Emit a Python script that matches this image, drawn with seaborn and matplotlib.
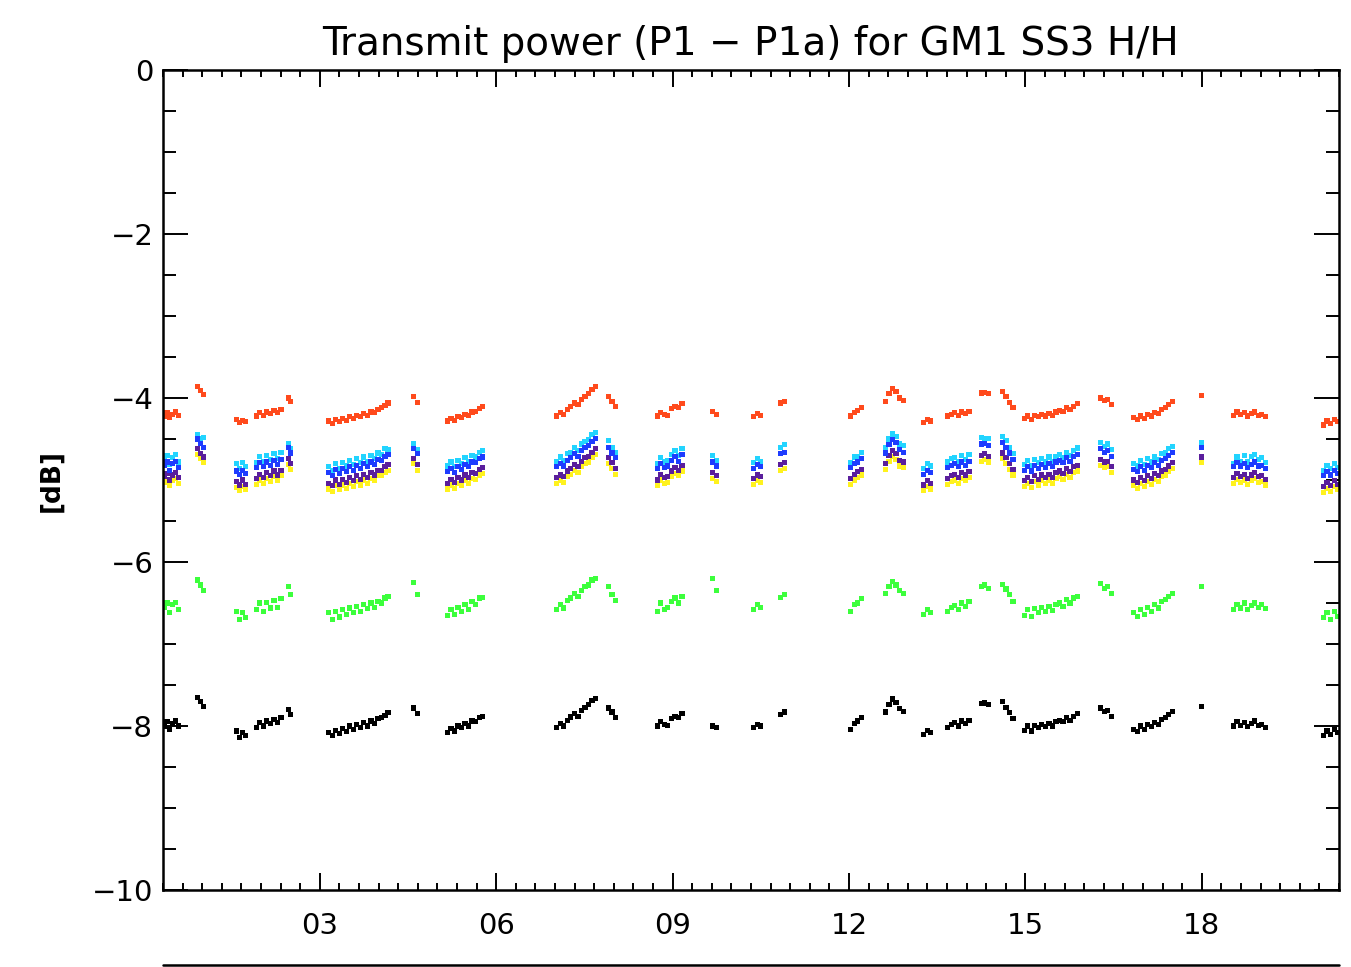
import pandas as pd
import matplotlib
matplotlib.use("Agg")
import matplotlib.pyplot as plt
from matplotlib.lines import Line2D
from matplotlib.ticker import MultipleLocator, FixedLocator
import seaborn as sns

sns.set_style("ticks")
plt.rcParams["font.family"] = ["DejaVu Sans"]
plt.rcParams["text.color"] = "black"

# time of each sample (days of the month); passes are grouped one per line
t_days = [
    0.35, 0.40, 0.45, 0.50, 0.55, 0.60,
    0.92, 0.97, 1.02,
    1.58, 1.63, 1.68, 1.73,
    1.92, 1.98, 2.04, 2.10, 2.16, 2.22, 2.28, 2.34,
    2.47, 2.50,
    3.15, 3.21, 3.27, 3.33, 3.39, 3.45, 3.51, 3.57, 3.63, 3.69, 3.75, 3.81, 3.87, 3.93, 3.99, 4.05, 4.11, 4.16,
    4.60, 4.66,
    5.17, 5.23, 5.29, 5.35, 5.41, 5.47, 5.53, 5.59, 5.65, 5.71, 5.77,
    7.03, 7.09, 7.15, 7.21, 7.27, 7.33, 7.39, 7.45, 7.51, 7.57, 7.63, 7.69,
    7.91, 7.97, 8.03,
    8.74, 8.80, 8.86, 8.92, 8.98, 9.04, 9.10, 9.16,
    9.68, 9.74,
    10.38, 10.44, 10.50,
    10.84, 10.90,
    12.03, 12.09, 12.15, 12.21,
    12.62, 12.68, 12.74, 12.80, 12.86, 12.93,
    13.27, 13.33, 13.39,
    13.68, 13.74, 13.80, 13.86, 13.92, 13.98, 14.04,
    14.25, 14.31, 14.37,
    14.61, 14.67, 14.73, 14.79,
    14.98, 15.04, 15.10, 15.16, 15.22, 15.28, 15.34, 15.40, 15.46, 15.52, 15.58, 15.64, 15.70, 15.76, 15.82, 15.88,
    16.28, 16.34, 16.40, 16.46,
    16.84, 16.90, 16.96, 17.02, 17.08, 17.14, 17.20, 17.26, 17.32, 17.38, 17.44, 17.50,
    17.99,
    18.54, 18.60, 18.66, 18.72, 18.78, 18.84, 18.90, 18.96, 19.02, 19.08,
    20.07, 20.13, 20.19, 20.25, 20.31,
]

p_red = [
    -4.22, -4.18, -4.24, -4.20, -4.17, -4.21,
    -3.86, -3.91, -3.96,
    -4.26, -4.30, -4.27, -4.29,
    -4.22, -4.18, -4.21, -4.17, -4.19, -4.15, -4.18, -4.14,
    -4.00, -4.04,
    -4.28, -4.31, -4.26, -4.29, -4.25, -4.27, -4.23, -4.25, -4.21, -4.23, -4.19, -4.21, -4.17, -4.18, -4.14, -4.12, -4.09, -4.06,
    -3.98, -4.05,
    -4.28, -4.25, -4.27, -4.23, -4.24, -4.20, -4.21, -4.17, -4.16, -4.13, -4.10,
    -4.22, -4.18, -4.20, -4.14, -4.10, -4.06, -4.08, -4.02, -3.98, -3.95, -3.90, -3.86,
    -3.98, -4.04, -4.10,
    -4.22, -4.18, -4.20, -4.21, -4.13, -4.10, -4.12, -4.07,
    -4.16, -4.20,
    -4.23, -4.19, -4.21,
    -4.06, -4.04,
    -4.22, -4.18, -4.15, -4.12,
    -4.04, -3.95, -3.88, -3.92, -4.00, -4.03,
    -4.30, -4.26, -4.28,
    -4.22, -4.20, -4.18, -4.21, -4.17, -4.19, -4.16,
    -3.94, -3.93, -3.95,
    -3.92, -3.98, -4.05, -4.12,
    -4.25, -4.22, -4.26, -4.21, -4.23, -4.20, -4.22, -4.19, -4.21, -4.17, -4.15, -4.16, -4.12, -4.14, -4.10, -4.07,
    -4.00, -4.03, -4.02, -4.08,
    -4.24, -4.26, -4.22, -4.25, -4.20, -4.22, -4.18, -4.19, -4.14, -4.12, -4.08, -4.04,
    -3.97,
    -4.21, -4.17, -4.20, -4.18, -4.22, -4.19, -4.17, -4.21, -4.20, -4.23,
    -4.33, -4.28, -4.31, -4.26, -4.29,
]

p_cyan = [
    -4.74, -4.70, -4.81, -4.73, -4.69, -4.78,
    -4.45, -4.50, -4.48,
    -4.80, -4.86, -4.79, -4.84,
    -4.79, -4.71, -4.77, -4.70, -4.75, -4.68, -4.74, -4.66,
    -4.55, -4.62,
    -4.84, -4.88, -4.80, -4.86, -4.79, -4.83, -4.76, -4.81, -4.74, -4.79, -4.72, -4.77, -4.70, -4.74, -4.67, -4.69, -4.62, -4.63,
    -4.56, -4.63,
    -4.83, -4.78, -4.84, -4.76, -4.80, -4.73, -4.77, -4.70, -4.72, -4.66, -4.64,
    -4.78, -4.72, -4.76, -4.68, -4.66, -4.60, -4.64, -4.56, -4.53, -4.51, -4.45, -4.42,
    -4.52, -4.60, -4.66,
    -4.80, -4.73, -4.78, -4.76, -4.69, -4.64, -4.70, -4.62,
    -4.70, -4.76,
    -4.79, -4.74, -4.77,
    -4.60, -4.57,
    -4.79, -4.72, -4.71, -4.66,
    -4.60, -4.50, -4.44, -4.47, -4.56, -4.58,
    -4.86, -4.80, -4.83,
    -4.78, -4.74, -4.73, -4.77, -4.70, -4.75, -4.69,
    -4.48, -4.50, -4.49,
    -4.47, -4.52, -4.60, -4.68,
    -4.81, -4.76, -4.82, -4.75, -4.79, -4.74, -4.78, -4.72, -4.77, -4.71, -4.69, -4.73, -4.66, -4.70, -4.64, -4.61,
    -4.54, -4.59, -4.56, -4.63,
    -4.80, -4.83, -4.76, -4.81, -4.74, -4.78, -4.72, -4.75, -4.68, -4.67, -4.62, -4.59,
    -4.54,
    -4.80, -4.72, -4.77, -4.70, -4.78, -4.71, -4.69, -4.75, -4.73, -4.79,
    -4.88, -4.82, -4.86, -4.80, -4.85,
]

p_blue = [
    -4.82, -4.78, -4.88, -4.80, -4.77, -4.85,
    -4.50, -4.55, -4.60,
    -4.89, -4.93, -4.88, -4.92,
    -4.85, -4.79, -4.84, -4.78, -4.82, -4.76, -4.81, -4.75,
    -4.60, -4.67,
    -4.91, -4.95, -4.87, -4.92, -4.86, -4.90, -4.84, -4.88, -4.82, -4.86, -4.80, -4.84, -4.78, -4.81, -4.75, -4.76, -4.71, -4.69,
    -4.62, -4.68,
    -4.90, -4.86, -4.91, -4.84, -4.87, -4.81, -4.84, -4.78, -4.79, -4.74, -4.72,
    -4.84, -4.80, -4.83, -4.76, -4.73, -4.68, -4.71, -4.64, -4.60, -4.58, -4.53, -4.49,
    -4.60, -4.67, -4.73,
    -4.86, -4.80, -4.85, -4.83, -4.76, -4.71, -4.77, -4.69,
    -4.78, -4.83,
    -4.86, -4.81, -4.84,
    -4.68, -4.66,
    -4.85, -4.80, -4.78, -4.74,
    -4.67, -4.57, -4.51, -4.54, -4.63, -4.66,
    -4.93, -4.88, -4.91,
    -4.85, -4.82, -4.80, -4.84, -4.78, -4.82, -4.77,
    -4.56, -4.55, -4.58,
    -4.54, -4.60, -4.67, -4.75,
    -4.88, -4.84, -4.89, -4.82, -4.86, -4.81, -4.85, -4.80, -4.84, -4.78, -4.76, -4.79, -4.73, -4.77, -4.71, -4.69,
    -4.62, -4.66, -4.64, -4.71,
    -4.87, -4.90, -4.84, -4.88, -4.82, -4.85, -4.79, -4.82, -4.76, -4.74, -4.70, -4.66,
    -4.60,
    -4.84, -4.79, -4.83, -4.80, -4.85, -4.81, -4.78, -4.83, -4.82, -4.86,
    -4.95, -4.90, -4.94, -4.88, -4.92,
]

p_purple = [
    -4.96, -4.92, -5.00, -4.94, -4.91, -4.97,
    -4.62, -4.68, -4.72,
    -5.02, -5.06, -5.00, -5.05,
    -4.98, -4.93, -4.97, -4.91, -4.95, -4.89, -4.94, -4.88,
    -4.74, -4.80,
    -5.04, -5.07, -5.00, -5.05, -4.99, -5.03, -4.97, -5.01, -4.95, -4.99, -4.93, -4.97, -4.91, -4.94, -4.88, -4.88, -4.84, -4.81,
    -4.74, -4.81,
    -5.04, -4.99, -5.03, -4.97, -5.00, -4.94, -4.97, -4.91, -4.92, -4.87, -4.85,
    -4.97, -4.94, -4.96, -4.89, -4.86, -4.81, -4.84, -4.77, -4.73, -4.71, -4.66, -4.62,
    -4.73, -4.79, -4.86,
    -5.00, -4.93, -4.97, -4.96, -4.89, -4.85, -4.88, -4.82,
    -4.91, -4.95,
    -4.98, -4.94, -4.96,
    -4.81, -4.79,
    -4.98, -4.93, -4.90, -4.87,
    -4.80, -4.70, -4.64, -4.68, -4.76, -4.78,
    -5.06, -5.01, -5.04,
    -4.98, -4.95, -4.93, -4.97, -4.91, -4.94, -4.90,
    -4.70, -4.68, -4.71,
    -4.67, -4.73, -4.80, -4.87,
    -5.01, -4.97, -5.02, -4.95, -4.99, -4.94, -4.97, -4.93, -4.97, -4.91, -4.89, -4.92, -4.86, -4.90, -4.84, -4.82,
    -4.75, -4.78, -4.77, -4.84,
    -5.00, -5.03, -4.97, -5.01, -4.95, -4.98, -4.92, -4.95, -4.89, -4.87, -4.83, -4.79,
    -4.72,
    -4.97, -4.92, -4.96, -4.93, -4.98, -4.94, -4.91, -4.96, -4.95, -4.99,
    -5.08, -5.03, -5.07, -5.01, -5.05,
]

p_yellow = [
    -5.03, -4.99, -5.07, -5.01, -4.98, -5.04,
    -4.69, -4.74, -4.79,
    -5.09, -5.13, -5.08, -5.12,
    -5.05, -5.00, -5.04, -4.98, -5.02, -4.96, -5.01, -4.95,
    -4.81, -4.87,
    -5.11, -5.14, -5.07, -5.12, -5.06, -5.10, -5.04, -5.08, -5.02, -5.06, -5.00, -5.04, -4.98, -5.01, -4.95, -4.95, -4.91, -4.88,
    -4.80, -4.88,
    -5.11, -5.06, -5.10, -5.04, -5.07, -5.01, -5.04, -4.98, -4.99, -4.94, -4.92,
    -5.04, -5.01, -5.03, -4.96, -4.93, -4.88, -4.91, -4.84, -4.80, -4.78, -4.73, -4.69,
    -4.80, -4.86, -4.93,
    -5.06, -5.00, -5.04, -5.03, -4.96, -4.92, -4.95, -4.89,
    -4.98, -5.02,
    -5.05, -5.01, -5.03,
    -4.88, -4.86,
    -5.05, -5.00, -4.97, -4.94,
    -4.87, -4.77, -4.71, -4.75, -4.83, -4.85,
    -5.13, -5.08, -5.11,
    -5.05, -5.02, -5.00, -5.04, -4.98, -5.01, -4.97,
    -4.77, -4.75, -4.78,
    -4.74, -4.80, -4.87, -4.94,
    -5.08, -5.04, -5.09, -5.02, -5.06, -5.01, -5.04, -5.00, -5.04, -4.98, -4.96, -4.99, -4.93, -4.97, -4.91, -4.89,
    -4.82, -4.85, -4.84, -4.91,
    -5.07, -5.10, -5.04, -5.08, -5.02, -5.05, -4.99, -5.02, -4.96, -4.94, -4.90, -4.86,
    -4.79,
    -5.04, -4.99, -5.03, -5.00, -5.05, -5.01, -4.98, -5.03, -5.02, -5.06,
    -5.15, -5.10, -5.14, -5.08, -5.12,
]

p_green = [
    -6.55, -6.50, -6.62, -6.52, -6.49, -6.58,
    -6.22, -6.28, -6.35,
    -6.60, -6.70, -6.62, -6.68,
    -6.58, -6.50, -6.60, -6.49, -6.56, -6.47, -6.55, -6.45,
    -6.30, -6.40,
    -6.62, -6.70, -6.60, -6.67, -6.58, -6.64, -6.56, -6.62, -6.54, -6.60, -6.52, -6.57, -6.50, -6.55, -6.48, -6.50, -6.44, -6.42,
    -6.25, -6.40,
    -6.65, -6.58, -6.64, -6.55, -6.60, -6.52, -6.58, -6.48, -6.52, -6.44, -6.43,
    -6.58, -6.52, -6.56, -6.47, -6.44, -6.38, -6.42, -6.35, -6.30, -6.28, -6.22, -6.20,
    -6.30, -6.40, -6.47,
    -6.60, -6.50, -6.58, -6.55, -6.48, -6.44, -6.50, -6.42,
    -6.20, -6.35,
    -6.58, -6.52, -6.55,
    -6.43, -6.40,
    -6.60, -6.52, -6.50, -6.45,
    -6.38, -6.30, -6.24, -6.28, -6.35, -6.38,
    -6.64, -6.58, -6.62,
    -6.60, -6.55, -6.53, -6.58, -6.50, -6.54, -6.48,
    -6.30, -6.28, -6.32,
    -6.27, -6.33, -6.40, -6.48,
    -6.65, -6.58, -6.66, -6.57, -6.62, -6.55, -6.60, -6.54, -6.59, -6.52, -6.50, -6.54, -6.46, -6.50, -6.44, -6.42,
    -6.26, -6.32, -6.30, -6.38,
    -6.62, -6.66, -6.58, -6.64, -6.55, -6.60, -6.52, -6.56, -6.48, -6.46, -6.42, -6.38,
    -6.30,
    -6.58, -6.52, -6.56, -6.50, -6.58, -6.53, -6.50, -6.55, -6.52, -6.57,
    -6.68, -6.62, -6.70, -6.60, -6.66,
]

p_black = [
    -8.00, -7.95, -8.04, -7.97, -7.94, -8.00,
    -7.65, -7.70, -7.76,
    -8.06, -8.14, -8.08, -8.12,
    -8.02, -7.96, -8.00, -7.94, -7.97, -7.92, -7.96, -7.90,
    -7.80, -7.86,
    -8.08, -8.12, -8.05, -8.09, -8.03, -8.07, -8.00, -8.04, -7.98, -8.02, -7.96, -8.00, -7.94, -7.97, -7.91, -7.90, -7.87, -7.84,
    -7.78, -7.85,
    -8.08, -8.03, -8.06, -8.00, -8.02, -7.97, -8.00, -7.94, -7.95, -7.90, -7.88,
    -8.02, -7.97, -8.00, -7.93, -7.89, -7.85, -7.88, -7.81, -7.77, -7.74, -7.69, -7.66,
    -7.78, -7.83, -7.90,
    -8.00, -7.95, -7.98, -7.99, -7.91, -7.88, -7.90, -7.85,
    -8.00, -8.02,
    -8.02, -7.98, -8.00,
    -7.86, -7.83,
    -8.04, -7.97, -7.94, -7.90,
    -7.83, -7.74, -7.67, -7.71, -7.79, -7.82,
    -8.10, -8.05, -8.08,
    -8.02, -7.98, -7.96, -8.00, -7.94, -7.97, -7.93,
    -7.73, -7.72, -7.74,
    -7.70, -7.77, -7.84, -7.91,
    -8.05, -8.00, -8.06, -7.99, -8.02, -7.98, -8.01, -7.97, -8.00, -7.95, -7.93, -7.95, -7.90, -7.93, -7.88, -7.85,
    -7.78, -7.82, -7.81, -7.88,
    -8.04, -8.07, -8.00, -8.04, -7.98, -8.01, -7.96, -7.98, -7.92, -7.90, -7.86, -7.82,
    -7.76,
    -8.00, -7.95, -7.99, -7.96, -8.01, -7.97, -7.94, -7.99, -7.98, -8.02,
    -8.12, -8.06, -8.10, -8.04, -8.08,
]

series = {
    "red": p_red, "yellow": p_yellow, "purple": p_purple, "cyan": p_cyan,
    "blue": p_blue, "green": p_green, "black": p_black,
}
colors = {
    "red": "#ff4a1c", "yellow": "#fff21e", "purple": "#5a1e9c", "cyan": "#22d4ff",
    "blue": "#1e3cff", "green": "#3cff3c", "black": "#000000",
}

x_ticks = [3, 6, 9, 12, 15, 18]
x_ticklabels = ["03", "06", "09", "12", "15", "18"]
y_ticks = [0, -2, -4, -6, -8, -10]
y_ticklabels = ["0", "\u22122", "\u22124", "\u22126", "\u22128", "\u221210"]

df = pd.concat(
    [pd.DataFrame({"day": t_days, "dB": v, "series": k}) for k, v in series.items()],
    ignore_index=True,
)

W, H = 1351, 967
fig = plt.figure(figsize=(W / 100, H / 100), dpi=100)
ax = fig.add_axes([163 / W, 77 / H, 1176 / W, 820 / H])

sns.scatterplot(data=df, x="day", y="dB", hue="series", palette=colors,
                marker="s", s=14, linewidth=0, legend=False, ax=ax)

ax.set_xlim(1 / 3, 20 + 1 / 3)
ax.set_ylim(-10, 0)
ax.xaxis.set_major_locator(FixedLocator(x_ticks))
ax.set_xticklabels(x_ticklabels)
ax.xaxis.set_minor_locator(MultipleLocator(1 / 3))
ax.yaxis.set_major_locator(FixedLocator(y_ticks))
ax.set_yticklabels(y_ticklabels)
ax.yaxis.set_minor_locator(MultipleLocator(0.5))

ax.tick_params(axis="both", which="both", direction="in", top=True, right=True,
               width=1.4, color="black", labelsize=21, labelcolor="black")
ax.tick_params(axis="x", which="major", length=12, pad=16)
ax.tick_params(axis="x", which="minor", length=5)
ax.tick_params(axis="y", which="major", length=18, pad=7)
ax.tick_params(axis="y", which="minor", length=9.5)
for sp in ax.spines.values():
    sp.set_linewidth(1.8)
    sp.set_color("black")

ax.set_xlabel("")
ax.set_ylabel("[dB]", fontsize=19, fontweight="bold", color="black")
ax.yaxis.set_label_coords(-0.084, 0.5)
ax.set_title("Transmit power (P1 \u2212 P1a) for GM1 SS3 H/H", fontsize=28,
             color="black", pad=11)

# top edge of the next panel, cut off at the bottom of the image
fig.add_artist(Line2D([163 / W, 1339 / W], [1 - 965 / H] * 2, color="black", lw=1.8))

fig.savefig("out.png", dpi=100)
